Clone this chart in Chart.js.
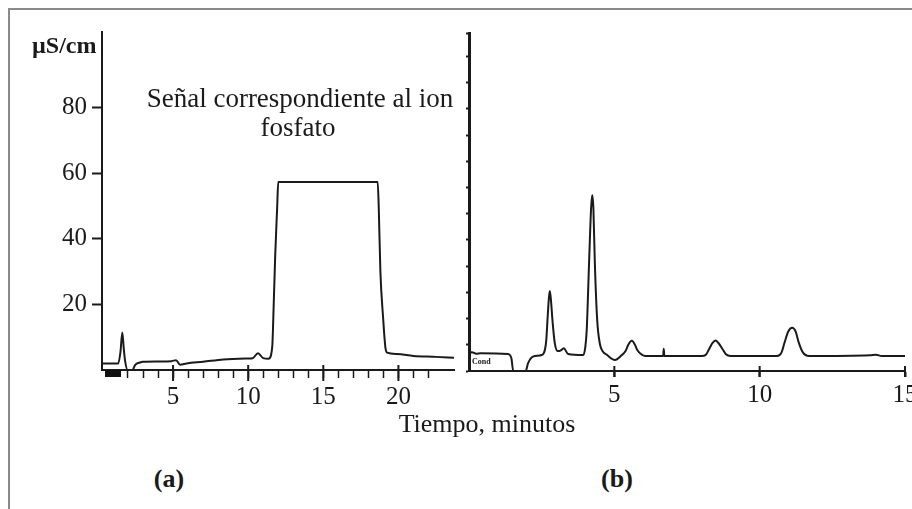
<!DOCTYPE html>
<html>
<head>
<meta charset="utf-8">
<script src="https://cdn.jsdelivr.net/npm/chart.js@4/dist/chart.umd.min.js"></script>
<style>
  body { margin: 0; background: #fff; }
  #lienzo { position: relative; width: 912px; height: 509px; overflow: hidden; background: #fff; font-family: "Liberation Serif", "DejaVu Serif", serif; color: #1a1a1a; }
  #marco { position: absolute; left: 8px; top: 8px; width: 920px; height: 520px; border-top: 2px solid #8a8a8a; border-left: 2px solid #8a8a8a; }
  canvas { position: absolute; top: 0; }
  .txt { position: absolute; white-space: nowrap; line-height: 1; }
</style>
</head>
<body>
<div id="lienzo">
  <div id="marco"></div>
  <canvas id="chartA" style="left:0px"></canvas>
  <canvas id="chartB" style="left:455px"></canvas>
  <div class="txt" style="left:32px; top:33px; font-size:24px; font-weight:bold;">µS/cm</div>
  <div class="txt" style="left:300px; top:85px; font-size:27px; transform:translateX(-50%);">Señal correspondiente al ion</div>
  <div class="txt" style="left:298px; top:114px; font-size:27px; transform:translateX(-50%);">fosfato</div>
  <div class="txt" style="left:487px; top:411px; font-size:26px; transform:translateX(-50%);">Tiempo, minutos</div>
  <div class="txt" style="left:169px; top:466px; font-size:26px; font-weight:bold; transform:translateX(-50%);">(a)</div>
  <div class="txt" style="left:617px; top:466px; font-size:26px; font-weight:bold; transform:translateX(-50%);">(b)</div>
  <div class="txt" style="left:105px; top:370px; font-size:7px; font-weight:bold; background:#111; color:#111;">Cond</div>
  <div class="txt" style="left:472px; top:358px; font-size:8px; font-weight:bold;">Cond</div>
</div>
<script>
"use strict";

// (a) muestra con fosfato: tiempo (min) y conductividad (µS/cm)
var tiemposA = [0.27, 1.35, 1.5, 1.62, 1.72, 1.8, 1.98, 2.3, 2.47, 2.8, 3.0, 4.0, 4.9, 5.2, 5.47, 5.9, 7.0, 8.35, 10.0, 10.3, 10.65, 11.0, 11.35, 11.6, 11.7, 11.8, 11.93, 12.0, 18.62, 18.69, 18.8, 18.98, 19.13, 19.25, 19.9, 21.0, 22.5, 23.7];
var senalA   = [2.0, 2.0, 5.5, 11.4, 6.5, 3.0, 0, 0, 1.5, 2.3, 2.5, 2.6, 2.7, 3.0, 1.6, 2.0, 2.5, 3.2, 3.5, 3.6, 5.1, 3.6, 3.4, 7.0, 20, 35, 49.6, 57.3, 57.3, 49.7, 30, 16, 7, 5.3, 4.9, 4.3, 4.0, 3.7];

// (b) muestra tratada (escala sin etiquetas, en divisiones)
var tiemposB = [0, 0.1, 0.25, 0.4, 1.34, 1.46, 1.52, 1.95, 2.03, 2.2, 2.5,
  2.61, 2.66, 2.7, 2.75, 2.78, 2.82, 2.87, 2.95, 3.05, 3.15, 3.26, 3.41,
  3.93, 4.0, 4.05, 4.13, 4.2, 4.24, 4.28, 4.33, 4.41, 4.5, 4.6, 4.73,
  5.02, 5.25, 5.38, 5.48, 5.6, 5.7, 5.8, 5.95, 6.06,
  6.68, 6.7, 6.72,
  8.0, 8.15, 8.27, 8.38, 8.48, 8.58, 8.71, 8.83, 9.0,
  10.6, 10.75, 10.86, 10.98, 11.12, 11.24, 11.34, 11.48, 11.7,
  13.8, 14.0, 14.2, 15];
var senalB   = [0.65, 0.72, 0.66, 0.68, 0.65, 0.48, 0, 0, 0.29, 0.55, 0.61,
  0.8, 1.2, 1.95, 2.8, 3.05, 2.7, 1.95, 1.07, 0.76, 0.78, 0.87, 0.65,
  0.61, 0.9, 1.56, 4.1, 6.2, 6.72, 6.2, 4.1, 1.95, 1.05, 0.75, 0.63,
  0.42, 0.6, 0.75, 1.0, 1.15, 1.02, 0.78, 0.62, 0.57,
  0.57, 0.85, 0.57,
  0.57, 0.62, 0.86, 1.07, 1.16, 1.07, 0.86, 0.65, 0.57,
  0.57, 0.7, 1.1, 1.5, 1.65, 1.5, 1.1, 0.72, 0.57,
  0.6, 0.62, 0.57, 0.57];

var etiquetasYA = [20, 40, 60, 80];
var marcasXA = [5, 10, 15, 20];
var marcasXB = [5, 10, 15];

var negro = '#1a1a1a';
var fuenteTicks = { family: '"Liberation Serif", serif', size: 25 };

function puntos(xs, ys) {
  return xs.map(function(x, i) { return { x: x, y: ys[i] }; });
}

// marcas largas que cruzan el eje x
var marcasMayores = {
  id: 'marcasMayores',
  afterDraw: function(chart, args, opts) {
    var xs = chart.scales.x, ctx = chart.ctx;
    ctx.save();
    ctx.strokeStyle = negro;
    ctx.lineWidth = 2;
    opts.valores.forEach(function(v) {
      var px = xs.getPixelForValue(v);
      ctx.beginPath();
      ctx.moveTo(px, xs.top - opts.arriba);
      ctx.lineTo(px, xs.top + opts.abajo);
      ctx.stroke();
    });
    ctx.restore();
  }
};

function lineaDatos(xs, ys) {
  return {
    data: puntos(xs, ys),
    borderColor: negro,
    borderWidth: 2,
    pointRadius: 0,
    cubicInterpolationMode: 'monotone',
    fill: false
  };
}

var cA = document.getElementById('chartA');
cA.width = 470; cA.height = 430;
new Chart(cA, {
  type: 'line',
  data: { datasets: [lineaDatos(tiemposA, senalA)] },
  plugins: [marcasMayores],
  options: {
    responsive: false,
    animation: false,
    layout: { padding: { top: 32, right: 16, left: 0, bottom: 0 } },
    plugins: {
      legend: { display: false },
      tooltip: { enabled: false },
      marcasMayores: { valores: marcasXA, arriba: 5, abajo: 11 }
    },
    scales: {
      x: {
        type: 'linear', min: 0.27, max: 23.7,
        border: { color: negro, width: 2 },
        grid: { drawOnChartArea: false, tickLength: 8, tickWidth: 1.5, tickColor: negro },
        ticks: {
          stepSize: 1, padding: 4, color: negro, font: fuenteTicks, maxRotation: 0, autoSkip: false,
          callback: function(v) { return marcasXA.indexOf(v) >= 0 ? String(v) : ''; }
        },
        afterBuildTicks: function(s) { s.ticks = s.ticks.filter(function(t) { return Number.isInteger(t.value) && t.value > 0; }); },
        afterFit: function(s) { s.height = 60; }
      },
      y: {
        type: 'linear', min: 0, max: 103,
        border: { color: negro, width: 2 },
        grid: { drawOnChartArea: false, tickLength: 10, tickWidth: 2, tickColor: negro },
        ticks: { padding: 5, color: negro, font: fuenteTicks },
        afterBuildTicks: function(s) { s.ticks = etiquetasYA.map(function(v) { return { value: v }; }); },
        afterFit: function(s) { s.width = 102; }
      }
    }
  }
});

var cB = document.getElementById('chartB');
cB.width = 475; cB.height = 430;
new Chart(cB, {
  type: 'line',
  data: { datasets: [lineaDatos(tiemposB, senalB)] },
  plugins: [marcasMayores],
  options: {
    responsive: false,
    animation: false,
    layout: { padding: { top: 33, right: 25, left: 0, bottom: 0 } },
    plugins: {
      legend: { display: false },
      tooltip: { enabled: false },
      marcasMayores: { valores: marcasXB, arriba: 5, abajo: 6 }
    },
    scales: {
      x: {
        type: 'linear', min: 0, max: 15,
        border: { color: negro, width: 2 },
        grid: { drawOnChartArea: false, tickLength: 6, tickWidth: 2, tickColor: negro },
        ticks: { padding: 3, color: negro, font: fuenteTicks, maxRotation: 0, autoSkip: false },
        afterBuildTicks: function(s) { s.ticks = marcasXB.map(function(v) { return { value: v }; }); },
        afterFit: function(s) { s.height = 59; }
      },
      y: {
        type: 'linear', min: 0, max: 12.9,
        border: { color: negro, width: 3 },
        grid: { drawOnChartArea: false, tickLength: 3, tickWidth: 2, tickColor: negro },
        ticks: { stepSize: 1, color: negro, font: { size: 1 }, padding: 0, callback: function() { return ''; } },
        afterFit: function(s) { s.width = 14; }
      }
    }
  }
});
</script>
</body>
</html>
